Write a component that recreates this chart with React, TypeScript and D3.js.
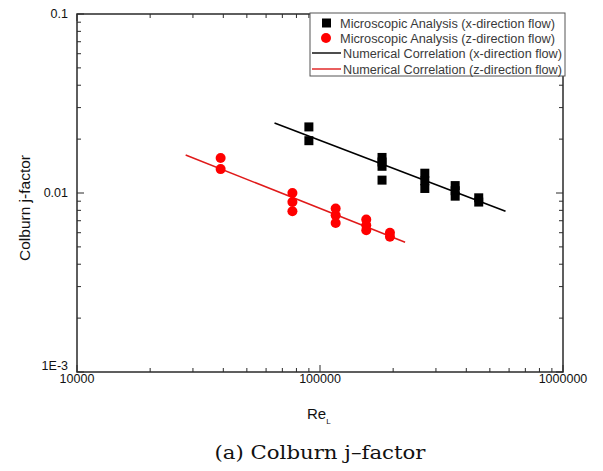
import React from 'react';
import * as d3 from 'd3';

// Microscopic analysis, x-direction flow (black squares)
const xFlowRe = [90000, 90000, 180000, 180000, 180000, 180000, 270000, 270000, 270000, 360000, 360000, 360000, 450000, 450000];
const xFlowJ = [0.0234, 0.0196, 0.0158, 0.0149, 0.0141, 0.0118, 0.0129, 0.0117, 0.0106, 0.011, 0.0103, 0.0096, 0.0094, 0.0089];

// Microscopic analysis, z-direction flow (red circles)
const zFlowRe = [39000, 39000, 77000, 77000, 77000, 116000, 116000, 116000, 155000, 155000, 155000, 194000, 194000];
const zFlowJ = [0.0157, 0.0136, 0.01, 0.0089, 0.0079, 0.0082, 0.0075, 0.0068, 0.0071, 0.0066, 0.0062, 0.006, 0.0057];

// numerical correlations (end points of the fitted lines)
const xCorrRe = [65000, 580000];
const xCorrJ = [0.0246, 0.0079];
const zCorrRe = [28000, 224000];
const zCorrJ = [0.0163, 0.0053];

const xTickLabels = ['10000', '100000', '1000000'];
const yTickLabels = ['1E-3', '0.01', '0.1'];

const legendLabels = [
  'Microscopic Analysis (x-direction flow)',
  'Microscopic Analysis (z-direction flow)',
  'Numerical Correlation (x-direction flow)',
  'Numerical Correlation (z-direction flow)',
];

export default function App() {
  const left = 77, right = 563, top = 14, bottom = 372;
  const x = d3.scaleLog().domain([1e4, 1e6]).range([left, right]);
  const y = d3.scaleLog().domain([1e-3, 0.1]).range([bottom, top]);

  const line = d3.line<[number, number]>()
    .x(d => x(d[0]))
    .y(d => y(d[1]));

  const isMajor = (v: number) => Math.abs(Math.log10(v) - Math.round(Math.log10(v))) < 1e-9;
  const xTicks = x.ticks();
  const yTicks = y.ticks();
  const xMajors = xTicks.filter(isMajor);
  const yMajors = yTicks.filter(isMajor);

  const frame = '#2a2a2a';
  const font = '"Liberation Sans", Arial, sans-serif';
  const sq = 9;

  return (
    <svg width={603} height={471} style={{ position: 'absolute', left: 0, top: 0, background: '#fff' }}>
      {/* ticks, all pointing inward */}
      {xTicks.map((t, i) => {
        const len = isMajor(t) ? 7 : 4;
        return (
          <g key={'xt' + i} stroke={frame} strokeWidth={1}>
            <line x1={x(t)} x2={x(t)} y1={bottom} y2={bottom - len} />
            <line x1={x(t)} x2={x(t)} y1={top} y2={top + len} />
          </g>
        );
      })}
      {yTicks.map((t, i) => {
        const len = isMajor(t) ? 7 : 4;
        return (
          <g key={'yt' + i} stroke={frame} strokeWidth={1}>
            <line x1={left} x2={left + len} y1={y(t)} y2={y(t)} />
            <line x1={right} x2={right - len} y1={y(t)} y2={y(t)} />
          </g>
        );
      })}
      <rect x={left} y={top} width={right - left} height={bottom - top} fill="none" stroke={frame} strokeWidth={1.5} />

      {/* tick labels */}
      {xMajors.map((t, i) => (
        <text key={'xl' + i} x={x(t)} y={383} textAnchor="middle" fontFamily={font} fontSize={12.5} fill="#111">
          {xTickLabels[i]}
        </text>
      ))}
      {yMajors.map((t, i) => (
        <text key={'yl' + i} x={68} y={y(t) + 4 - (i === 0 ? 6 : 0)} textAnchor="end" fontFamily={font} fontSize={12.5} fill="#111">
          {yTickLabels[i]}
        </text>
      ))}

      {/* axis titles */}
      <text transform="translate(30,208) rotate(-90)" textAnchor="middle" fontFamily={font} fontSize={15.5} fill="#111">
        Colburn j-factor
      </text>
      <text x={307} y={419} fontFamily={font} fontSize={15} fill="#111">
        Re<tspan fontSize={8} dy={5}>L</tspan>
      </text>

      {/* correlation lines */}
      <path d={line(xCorrRe.map((r, i) => [r, xCorrJ[i]]) as [number, number][]) || ''} stroke="#000" strokeWidth={1.6} fill="none" />
      <path d={line(zCorrRe.map((r, i) => [r, zCorrJ[i]]) as [number, number][]) || ''} stroke="#e01a1a" strokeWidth={1.6} fill="none" />

      {/* data points */}
      {xFlowRe.map((r, i) => (
        <rect key={'s' + i} x={x(r) - sq / 2} y={y(xFlowJ[i]) - sq / 2} width={sq} height={sq} fill="#000" />
      ))}
      {zFlowRe.map((r, i) => (
        <circle key={'c' + i} cx={x(r)} cy={y(zFlowJ[i])} r={5} fill="#ff0000" />
      ))}

      {/* legend */}
      <g>
        <rect x={310} y={13} width={255} height={63} fill="#fff" stroke="#555" strokeWidth={1} />
        <rect x={322} y={18.5} width={9} height={9} fill="#000" />
        <circle cx={326} cy={38} r={5} fill="#ff0000" />
        <line x1={312} x2={341} y1={53} y2={53} stroke="#000" strokeWidth={1.4} />
        <line x1={312} x2={341} y1={69} y2={69} stroke="#e01a1a" strokeWidth={1.4} />
        {legendLabels.map((s, i) => (
          <text key={'lg' + i} x={i < 2 ? 340 : 343} y={[23, 38, 53, 69][i] + 4.5} fontFamily={font} fontSize={12.5} fill="#3a3a3a"
            textLength={i < 2 ? 215 : 219} lengthAdjust="spacingAndGlyphs">
            {s}
          </text>
        ))}
      </g>

      {/* caption */}
      <text x={320} y={459} textAnchor="middle" fontFamily='"DejaVu Serif", "Liberation Serif", serif' fontSize={19} fill="#111" textLength={211} lengthAdjust="spacingAndGlyphs">
        (a) Colburn j–factor
      </text>
    </svg>
  );
}
